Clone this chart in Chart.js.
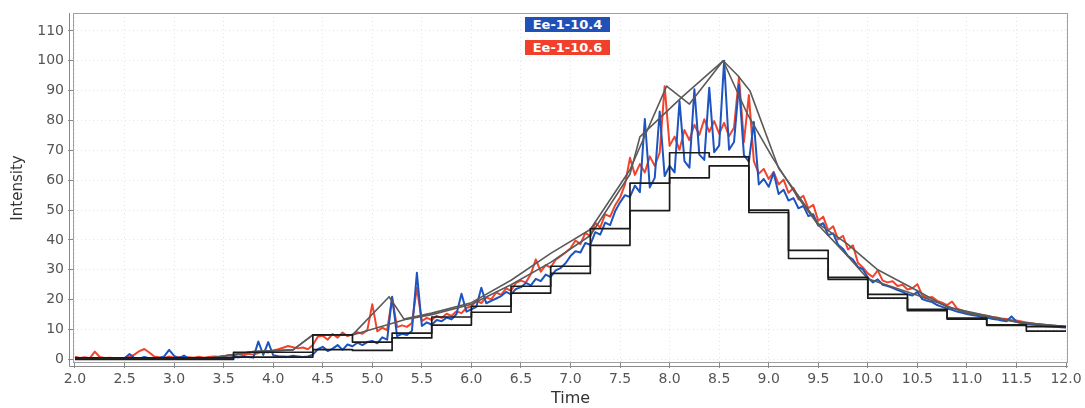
<!DOCTYPE html>
<html>
<head>
<meta charset="utf-8">
<title>Ee-1 intensity vs time</title>
<script src="https://cdn.jsdelivr.net/npm/chart.js@4.4.1/dist/chart.umd.min.js"></script>
<style>
  html, body { margin: 0; padding: 0; background: #fff; }
  #wrap { position: relative; width: 1085px; height: 408px; }
  .tag {
    position: absolute; left: 525px; width: 85px; height: 15px; line-height: 15px;
    text-align: center; color: #fff; font: bold 13px "DejaVu Sans", sans-serif;
  }
  #tag-blue { top: 17px; background: #1f52b8; }
  #tag-red  { top: 40px; background: #f0402c; }
</style>
</head>
<body>
<div id="wrap">
  <canvas id="chart" width="1085" height="408"></canvas>
  <div class="tag" id="tag-blue">Ee-1-10.4</div>
  <div class="tag" id="tag-red">Ee-1-10.6</div>
</div>
<script>
/* ================================================
   Data
   ================================================ */

// sampling of the two traces: 2.0 .. 12.0 every 0.05
const TRACE_START = 2.0;
const TRACE_STEP  = 0.05;

// Ee-1-10.4 (blue), one row per half unit of time
const blueValues = [
  0.3, 0.2, 0.3, 0.2, 0.4, 0.2, 0.3, 0.2, 0.3, 0.2,
  0.4, 1.8, 0.5, 0.3, 0.8, 0.4, 0.3, 0.5, 1.0, 3.2,
  1.2, 0.4, 1.3, 0.3, 0.4, 0.3, 0.5, 0.4, 0.6, 0.5,
  0.6, 0.5, 0.8, 0.7, 0.9, 0.8, 0.6, 6.0, 1.5, 5.8,
  1.4, 1.1, 1.0, 0.9, 1.2, 1.0, 0.8, 1.0, 1.6, 3.4,
  4.2, 2.8, 3.6, 4.8, 3.2, 5.0, 4.4, 5.6, 4.8, 5.8,
  6.2, 5.4, 7.4, 6.6, 21.0, 7.8, 8.6, 8.2, 9.6, 29.0,
  11.2, 12.4, 11.6, 13.2, 12.8, 14.0, 13.4, 15.2, 22.0, 16.0,
  16.8, 17.6, 24.0, 18.8, 19.6, 20.4, 21.2, 22.6, 21.8, 23.6,
  24.2, 25.6, 24.8, 27.0, 26.2, 28.4, 27.6, 29.8, 30.6, 32.2,
  34.6, 36.2, 35.8, 39.0, 38.4, 42.6, 41.8, 45.8, 45.0, 49.6,
  52.6, 55.0, 54.4, 58.2, 56.0, 80.5, 57.6, 60.8, 83.0, 61.4,
  64.8, 62.6, 86.5, 66.4, 64.2, 90.5, 68.6, 66.8, 91.0, 69.4,
  71.6, 100.0, 70.2, 72.8, 92.0, 68.4, 66.2, 79.5, 58.6, 60.4,
  57.8, 62.5, 55.4, 56.8, 53.2, 54.0, 50.6, 51.4, 48.0, 48.6,
  44.8, 45.6, 41.6, 42.2, 38.4, 37.0, 34.6, 33.4, 31.0, 30.2,
  27.4, 25.8, 26.8, 25.0, 24.6, 24.0, 23.2, 22.6, 21.8, 21.4,
  22.6, 20.2, 19.6, 19.2, 18.2, 17.6, 17.0, 16.6, 16.0, 15.6,
  15.2, 14.9, 14.6, 14.2, 14.0, 13.6, 13.4, 13.0, 12.8, 14.4,
  12.6, 12.2, 11.9, 11.7, 11.5, 11.3, 11.1, 11.0, 10.9, 10.8,
  10.7
];

// Ee-1-10.6 (red)
const redValues = [
  0.9, 0.5, 0.7, 0.4, 2.6, 0.8, 0.5, 0.6, 0.4, 0.5,
  0.6, 0.9, 1.6, 2.8, 3.5, 2.3, 1.0, 0.7, 0.5, 1.0,
  0.6, 0.8, 0.5, 0.7, 0.6, 0.9, 0.6, 0.8, 1.0, 0.9,
  1.1, 1.4, 1.2, 1.7, 1.4, 1.9, 1.6, 2.1, 2.6, 2.3,
  3.0, 3.4, 3.9, 4.5, 4.1, 3.7, 4.0, 3.4, 4.8, 7.6,
  7.9, 6.6, 8.5, 7.3, 9.0, 7.8, 8.4, 9.1, 8.6, 9.8,
  18.5, 9.4, 10.6, 9.8, 20.5, 10.8, 11.4, 10.9, 12.2, 24.0,
  12.8, 13.9, 13.2, 14.6, 13.9, 15.3, 14.6, 16.1, 15.5, 17.2,
  17.8, 19.6, 18.9, 20.8, 20.1, 22.4, 21.6, 23.8, 23.0, 25.6,
  26.4, 25.8, 28.6, 33.5, 29.4, 31.6, 30.8, 33.4, 34.6, 35.8,
  37.2, 39.8, 38.6, 42.4, 41.2, 45.8, 44.2, 48.6, 47.8, 51.6,
  54.2, 58.6, 67.5, 61.8, 65.4, 62.6, 68.0, 64.8, 69.2, 91.5,
  71.5, 74.6, 70.2, 76.8, 73.4, 78.6, 75.2, 80.4, 76.2, 79.8,
  75.6, 79.2, 74.8, 77.6, 94.5, 72.8, 88.5, 66.4, 62.2, 63.8,
  60.4, 62.8, 58.6, 60.2, 55.8, 57.4, 53.6, 54.8, 50.6, 51.8,
  46.4, 47.8, 43.2, 44.6, 40.2, 41.4, 36.8, 38.2, 32.4, 30.8,
  28.8, 27.6, 29.8, 26.4, 25.8, 26.2, 24.6, 25.0, 23.4, 23.8,
  25.2, 21.4, 20.6, 20.9, 19.6, 19.0, 18.2, 19.4, 17.0, 16.4,
  15.8, 15.4, 15.2, 14.8, 14.6, 14.2, 14.0, 13.7, 13.5, 13.2,
  13.0, 12.7, 12.4, 12.1, 11.9, 11.6, 11.4, 11.2, 11.0, 10.9,
  10.8
];

// black staircases (value holds from its time to the next one)
const stepTimes  = [2.0, 3.6, 4.4, 4.8, 5.2, 5.6, 6.0, 6.4, 6.8, 7.2, 7.6, 8.0, 8.4, 8.8, 9.2, 9.6, 10.0, 10.4, 10.8, 11.2, 11.6, 12.0];
const stepUpper  = [0.5, 2.4, 8.2, 5.8, 8.8, 14.2, 17.8, 24.5, 31.2, 43.8, 59.0, 69.2, 67.8, 50.0, 36.5, 27.5, 21.8, 16.8, 13.8, 11.6, 11.0, 11.0];
const stepLower  = [0.0, 0.8, 3.3, 3.0, 7.2, 11.5, 15.8, 22.2, 28.8, 38.2, 49.8, 60.8, 64.8, 49.2, 33.8, 26.8, 20.5, 16.3, 13.5, 11.4, 9.5, 9.5];

// grey envelopes
const envATimes  = [2.0, 3.4, 3.8, 4.2, 4.4, 4.8, 5.17, 5.32, 5.6, 6.0, 6.4, 6.8, 7.2, 7.6, 7.97, 8.2, 8.54, 8.78, 9.04, 9.28, 9.5, 9.8, 10.0, 10.5, 11.0, 11.5, 12.0];
const envAValues = [0.3, 0.6, 2.6, 3.2, 8.2, 8.2, 21.0, 13.5, 15.5, 19.0, 26.5, 35.5, 43.5, 63.5, 91.5, 85.5, 100.0, 82.5, 67.5, 55.0, 45.0, 34.5, 27.0, 21.5, 15.5, 12.5, 11.0];
const envBTimes  = [2.0, 3.4, 3.8, 4.2, 4.4, 4.8, 5.35, 5.6, 6.0, 6.4, 6.8, 7.2, 7.6, 7.7, 8.13, 8.54, 8.69, 8.81, 9.1, 9.5, 9.79, 10.1, 10.5, 10.8, 11.5, 12.0];
const envBValues = [0.3, 0.6, 2.6, 3.2, 8.2, 8.2, 13.5, 15.0, 18.5, 25.0, 32.5, 41.5, 62.0, 74.5, 88.0, 100.0, 95.0, 90.0, 64.0, 45.5, 38.8, 30.0, 23.0, 17.5, 12.5, 11.0];

// axis ticks
const xTicks = [2.0, 2.5, 3.0, 3.5, 4.0, 4.5, 5.0, 5.5, 6.0, 6.5, 7.0, 7.5, 8.0, 8.5, 9.0, 9.5, 10.0, 10.5, 11.0, 11.5, 12.0];
const yTicks = [0, 10, 20, 30, 40, 50, 60, 70, 80, 90, 100, 110];

/* ================================================
   Helpers
   ================================================ */

function pairs(xs, ys) {
  return ys.map((y, i) => ({ x: xs[i], y }));
}

function trace(values) {
  return values.map((y, i) => ({ x: +(TRACE_START + i * TRACE_STEP).toFixed(2), y }));
}

// plot outline + JFreeChart-like offset axis lines
const framePlugin = {
  id: 'frame',
  beforeDatasetsDraw(chart) {
    const { ctx, chartArea: a } = chart;
    ctx.save();
    ctx.strokeStyle = '#a0a0a0';
    ctx.lineWidth = 1;
    ctx.strokeRect(a.left + 0.5, a.top + 0.5, a.right - a.left - 1, a.bottom - a.top - 1);
    ctx.strokeStyle = '#8a8a8a';
    ctx.beginPath();
    ctx.moveTo(a.left - 3.5, a.top);
    ctx.lineTo(a.left - 3.5, a.bottom + 3.5);
    ctx.lineTo(a.right, a.bottom + 3.5);
    ctx.stroke();
    ctx.restore();
  }
};

const FONT = '"DejaVu Sans", sans-serif';

const line = (data, color, width, extra) => Object.assign({
  data,
  borderColor: color,
  borderWidth: width,
  pointRadius: 0,
  tension: 0,
  fill: false,
  borderJoinStyle: 'round',
}, extra || {});

/* ================================================
   Chart
   ================================================ */

const ctx = document.getElementById('chart').getContext('2d');

new Chart(ctx, {
  type: 'line',
  data: {
    datasets: [
      line(pairs(stepTimes, stepUpper), '#1b1b1b', 1.7, { label: 'steps upper', stepped: true }),
      line(pairs(stepTimes, stepLower), '#1b1b1b', 1.7, { label: 'steps lower', stepped: true }),
      line(pairs(envATimes, envAValues), '#5a5a5a', 1.6, { label: 'envelope A' }),
      line(pairs(envBTimes, envBValues), '#5a5a5a', 1.6, { label: 'envelope B' }),
      line(trace(blueValues), '#1d54c0', 2, { label: 'Ee-1-10.4' }),
      line(trace(redValues),  '#f2442c', 2, { label: 'Ee-1-10.6' }),
    ],
  },
  options: {
    responsive: false,
    animation: false,
    devicePixelRatio: 1,
    layout: { padding: { left: 0, right: 17, top: 13, bottom: 0 } },
    plugins: {
      legend: { display: false },
      tooltip: { enabled: false },
    },
    scales: {
      x: {
        type: 'linear',
        min: 1.98,
        max: 12.02,
        afterBuildTicks: s => { s.ticks = xTicks.map(v => ({ value: v })); },
        afterFit: s => { s.height = 45; },
        ticks: {
          autoSkip: false,
          maxRotation: 0,
          padding: 3,
          color: '#555',
          font: { family: FONT, size: 14 },
          callback: v => Number(v).toFixed(1),
        },
        grid: { color: 'rgba(0,0,0,0.1)', tickColor: '#888', tickLength: 5 },
        border: { display: false, dash: [1, 3] },
        title: {
          display: true,
          text: 'Time',
          color: '#333',
          font: { family: FONT, size: 16 },
          padding: { top: 0, bottom: 0 },
        },
      },
      y: {
        min: -1.2,
        max: 116,
        afterBuildTicks: s => { s.ticks = yTicks.map(v => ({ value: v })); },
        afterFit: s => { s.width = 73; },
        ticks: {
          padding: 4,
          color: '#555',
          font: { family: FONT, size: 14 },
          callback: v => v,
        },
        grid: { color: 'rgba(0,0,0,0.1)', tickColor: '#888', tickLength: 5 },
        border: { display: false, dash: [1, 3] },
        title: {
          display: true,
          text: 'Intensity',
          color: '#333',
          font: { family: FONT, size: 15 },
          padding: { top: 9, bottom: 0 },
        },
      },
    },
  },
  plugins: [framePlugin],
});
</script>
</body>
</html>
